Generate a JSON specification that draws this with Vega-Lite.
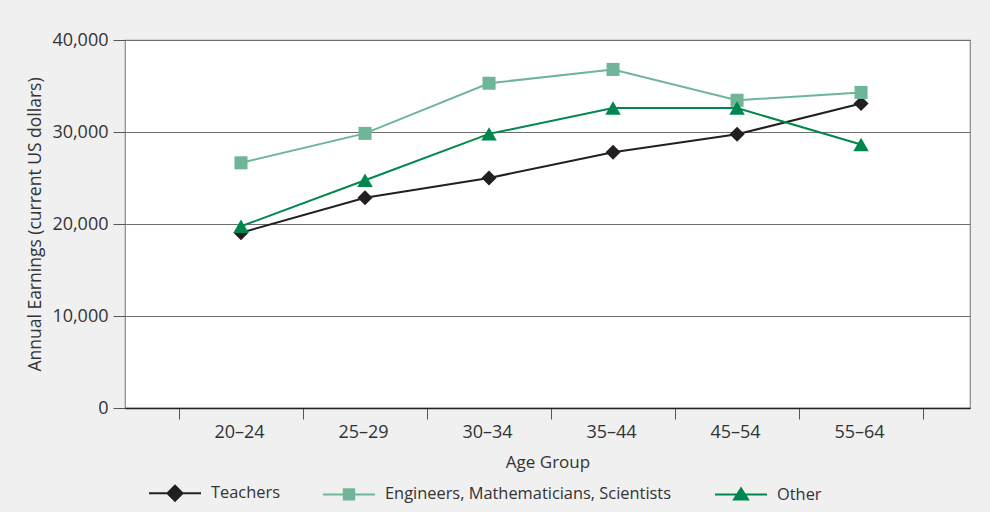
{
  "$schema": "https://vega.github.io/schema/vega-lite/v6.json",
  "width": 845,
  "height": 368,
  "autosize": {"type": "none"},
  "padding": {"left": 125, "top": 40, "right": 20, "bottom": 104},
  "background": "#f0f0f0",
  "config": {
    "font": "Open Sans",
    "view": {"fill": "white", "stroke": "#888888", "strokeWidth": 1.2}
  },
  "data": {
    "values": [
      {"age": "20–24", "group": "Teachers", "value": 19050},
      {"age": "25–29", "group": "Teachers", "value": 22850},
      {"age": "30–34", "group": "Teachers", "value": 25000},
      {"age": "35–44", "group": "Teachers", "value": 27800},
      {"age": "45–54", "group": "Teachers", "value": 29750},
      {"age": "55–64", "group": "Teachers", "value": 33100},
      {"age": "20–24", "group": "Engineers, Mathematicians, Scientists", "value": 26650},
      {"age": "25–29", "group": "Engineers, Mathematicians, Scientists", "value": 29850},
      {"age": "30–34", "group": "Engineers, Mathematicians, Scientists", "value": 35300},
      {"age": "35–44", "group": "Engineers, Mathematicians, Scientists", "value": 36800},
      {"age": "45–54", "group": "Engineers, Mathematicians, Scientists", "value": 33450},
      {"age": "55–64", "group": "Engineers, Mathematicians, Scientists", "value": 34300},
      {"age": "20–24", "group": "Other", "value": 19750},
      {"age": "25–29", "group": "Other", "value": 24750},
      {"age": "30–34", "group": "Other", "value": 29800},
      {"age": "35–44", "group": "Other", "value": 32600},
      {"age": "45–54", "group": "Other", "value": 32600},
      {"age": "55–64", "group": "Other", "value": 28650}
    ]
  },
  "encoding": {
    "x": {
      "field": "age",
      "type": "nominal",
      "sort": ["20–24", "25–29", "30–34", "35–44", "45–54", "55–64"],
      "scale": {"type": "band", "paddingInner": 0, "paddingOuter": 0.407, "align": 0.535},
      "axis": {
        "title": "Age Group",
        "labelAngle": 0,
        "labelOffset": -2,
        "tickBand": "extent",
        "tickSize": 11,
        "tickColor": "#555555",
        "domainColor": "#222222",
        "domainWidth": 1.5,
        "labelFontSize": 18,
        "labelColor": "#333333",
        "labelPadding": 4,
        "titleFontSize": 17,
        "titleFontWeight": "normal",
        "titleColor": "#333333",
        "titlePadding": 13,
        "zindex": 1
      }
    },
    "y": {
      "field": "value",
      "type": "quantitative",
      "scale": {"domain": [0, 40000]},
      "axis": {
        "title": "Annual Earnings (current US dollars)",
        "values": [0, 10000, 20000, 30000, 40000],
        "format": ",d",
        "grid": true,
        "gridColor": "#6e6e6e",
        "gridOpacity": 1,
        "domain": false,
        "tickSize": 12,
        "tickColor": "#555555",
        "labelFontSize": 18,
        "labelColor": "#333333",
        "labelPadding": 5,
        "titleFontSize": 17.5,
        "titleFontWeight": "normal",
        "titleColor": "#333333",
        "titlePadding": 7
      }
    },
    "color": {
      "field": "group",
      "type": "nominal",
      "scale": {
        "domain": ["Teachers", "Engineers, Mathematicians, Scientists", "Other"],
        "range": ["#231f20", "#6fb597", "#00874e"]
      },
      "legend": {
        "orient": "none",
        "legendX": 23,
        "legendY": 426,
        "direction": "horizontal",
        "title": null,
        "symbolSize": 2704,
        "symbolStrokeWidth": 2,
        "labelFontSize": 16.4,
        "labelColor": "#333333",
        "labelOffset": 9,
        "labelLimit": 500,
        "columnPadding": 39,
        "padding": 0,
        "encode": {
          "symbols": {
            "update": {
              "shape": {"signal": "datum.value === 'Teachers' ? 'M-1,0H1M-0.29,0L0,-0.29L0.29,0L0,0.29Z' : datum.value === 'Other' ? 'M-1,0H1M0,-0.24L0.27,0.19L-0.27,0.19Z' : 'M-1,0H1M-0.2,-0.2H0.2V0.2H-0.2Z'"},
              "size": {"value": 2704},
              "fill": {"signal": "scale('color', datum.value)"},
              "stroke": {"signal": "scale('color', datum.value)"},
              "strokeWidth": {"value": 2},
              "opacity": {"value": 1}
            }
          }
        }
      }
    }
  },
  "layer": [
    {"mark": {"type": "line", "strokeWidth": 2}},
    {
      "transform": [{"filter": "datum.group === 'Teachers'"}],
      "mark": {"type": "point", "filled": true, "opacity": 1, "shape": "diamond", "size": 225}
    },
    {
      "transform": [{"filter": "datum.group === 'Engineers, Mathematicians, Scientists'"}],
      "mark": {"type": "point", "filled": true, "opacity": 1, "shape": "square", "size": 170}
    },
    {
      "transform": [{"filter": "datum.group === 'Other'"}],
      "mark": {"type": "point", "filled": true, "opacity": 1, "shape": "triangle-up", "size": 240}
    }
  ]
}
